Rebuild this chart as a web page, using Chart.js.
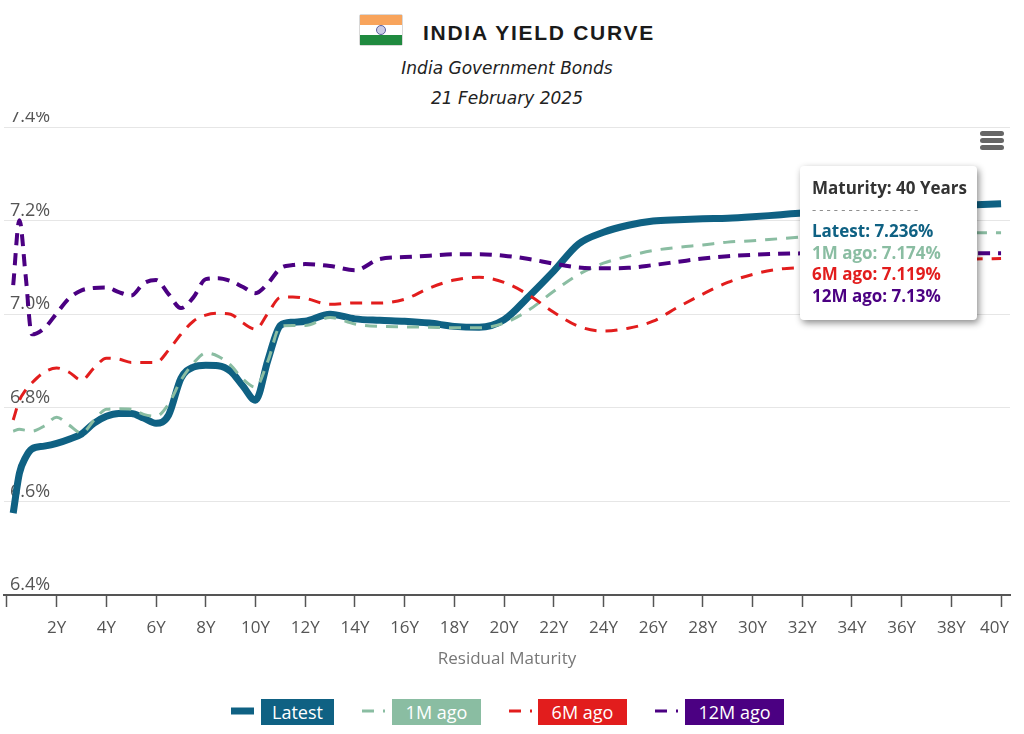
<!DOCTYPE html>
<html>
<head>
<meta charset="utf-8">
<title>India Yield Curve</title>
<script src="https://cdn.jsdelivr.net/npm/chart.js@4"></script>
<style>
  html, body { margin: 0; padding: 0; background: #fff; }
  body { position: relative; width: 1024px; height: 734px; overflow: hidden; font-family: "Open Sans", sans-serif; }
  #flag { position: absolute; left: 359px; top: 14px; }
  #title { position: absolute; left: 423px; top: 21px; font: bold 21px "Liberation Sans", Arial, sans-serif; letter-spacing: 1.72px; color: #1a1a1a; white-space: nowrap; }
  .sub { position: absolute; left: 0; width: 1014px; text-align: center; font: italic 17px "DejaVu Sans", sans-serif; color: #222; }
  #chart { position: absolute; left: 0; top: 112px; }
  #menu { position: absolute; left: 980px; top: 131px; width: 24px; }
  #menu div { height: 5px; margin-bottom: 2px; border-radius: 3px; background: #666; }
  #tip { position: absolute; left: 800px; top: 166px; width: 177px; height: 154px; box-sizing: border-box; padding: 11px 0 0 12px; background: #fff; border-radius: 4px; box-shadow: 2px 3px 7px rgba(0,0,0,.45); font-weight: 700; font-size: 17px; line-height: 21.5px; white-space: nowrap; }
  #legend div.item { position: absolute; top: 699px; height: 26px; line-height: 26px; color: #fff; font-size: 18px; text-align: center; }
  #legend svg { position: absolute; top: 706px; }
</style>
</head>
<body>
<svg id="flag" width="44" height="32" viewBox="0 0 44 32">
  <rect x="0.5" y="0.5" width="43" height="31" rx="1.5" fill="#fff" stroke="#d8d8d8"/>
  <rect x="1" y="1" width="42" height="10" fill="#f8a45c"/>
  <rect x="1" y="21" width="42" height="10" fill="#1f8a3f"/>
  <circle cx="22" cy="16" r="4.5" fill="#c9cbe6" stroke="#5a5f9e"/>
</svg>
<div id="title">INDIA YIELD CURVE</div>
<div class="sub" style="top:58px">India Government Bonds</div>
<div class="sub" style="top:88px">21 February 2025</div>
<canvas id="chart" width="1024" height="557"></canvas>
<div id="menu"><div></div><div></div><div></div></div>
<div id="tip"></div>
<div id="legend"></div>

<script>
// residual maturity in years
var maturities = [0.25, 0.5, 0.75, 1, 1.5, 2, 2.5, 3, 3.5, 4, 4.5, 5, 5.5, 6, 6.5, 7, 7.5, 8, 8.5, 9, 9.5, 10, 10.5, 11, 11.5, 12,
  13, 14, 15, 16, 17, 18, 19, 20, 21, 22, 23, 24, 25, 26, 27, 28, 29, 30, 31, 32, 33, 34, 35, 36, 37, 38, 39, 40];

var latest = [6.575, 6.660, 6.694, 6.712, 6.718, 6.724, 6.733, 6.744, 6.767, 6.782, 6.788, 6.788, 6.778, 6.767, 6.784, 6.863, 6.887, 6.891, 6.890, 6.878, 6.846, 6.816, 6.902, 6.976, 6.983, 6.985,
  7.000, 6.990, 6.987, 6.985, 6.981, 6.974, 6.972, 6.988, 7.038, 7.092, 7.150, 7.175, 7.190, 7.199, 7.202, 7.204, 7.205, 7.208, 7.212, 7.216, 7.218, 7.222, 7.225, 7.228, 7.230, 7.232, 7.234, 7.236];

var oneMonth = [6.750, 6.754, 6.752, 6.750, 6.761, 6.780, 6.763, 6.746, 6.773, 6.797, 6.798, 6.797, 6.786, 6.782, 6.808, 6.859, 6.895, 6.917, 6.910, 6.891, 6.861, 6.844, 6.900, 6.974, 6.976, 6.976,
  6.993, 6.979, 6.974, 6.973, 6.972, 6.971, 6.971, 6.981, 7.009, 7.049, 7.085, 7.109, 7.124, 7.136, 7.143, 7.148, 7.154, 7.157, 7.161, 7.165, 7.167, 7.169, 7.170, 7.171, 7.172, 7.173, 7.174, 7.174];

var sixMonth = [6.774, 6.816, 6.838, 6.853, 6.876, 6.885, 6.876, 6.859, 6.885, 6.906, 6.904, 6.897, 6.897, 6.897, 6.923, 6.957, 6.985, 6.998, 7.002, 7.000, 6.981, 6.968, 7.002, 7.036, 7.037, 7.034,
  7.021, 7.024, 7.024, 7.032, 7.056, 7.073, 7.079, 7.068, 7.041, 7.004, 6.974, 6.964, 6.970, 6.985, 7.015, 7.043, 7.068, 7.085, 7.096, 7.100, 7.104, 7.107, 7.110, 7.112, 7.114, 7.116, 7.118, 7.119];

var twelveMonth = [7.062, 7.201, 7.083, 6.957, 6.970, 7.002, 7.034, 7.051, 7.056, 7.057, 7.047, 7.040, 7.066, 7.073, 7.043, 7.013, 7.036, 7.075, 7.077, 7.071, 7.058, 7.045, 7.066, 7.098, 7.105, 7.107,
  7.103, 7.094, 7.118, 7.122, 7.125, 7.128, 7.128, 7.125, 7.118, 7.108, 7.100, 7.098, 7.099, 7.105, 7.112, 7.119, 7.124, 7.127, 7.129, 7.130, 7.130, 7.131, 7.131, 7.131, 7.131, 7.131, 7.130, 7.130];

var xTickValues = [0, 2, 4, 6, 8, 10, 12, 14, 16, 18, 20, 22, 24, 26, 28, 30, 32, 34, 36, 38, 40];
var seriesNames = ['Latest', '1M ago', '6M ago', '12M ago'];
var seriesColors = ['#0f6183', '#8abda2', '#e21d1d', '#4b0082'];
var seriesValues = [latest, oneMonth, sixMonth, twelveMonth];
var lineWidths = [7, 3, 3, 4];
var dashes = [[], [12, 9], [12, 9], [12, 8]];

function points(values) {
  return values.map(function(v, i) { return { x: maturities[i], y: v }; });
}

var datasets = seriesNames.map(function(name, i) {
  return {
    label: name,
    data: points(seriesValues[i]),
    borderColor: seriesColors[i],
    borderWidth: lineWidths[i],
    borderDash: dashes[i],
    borderCapStyle: 'butt',
    cubicInterpolationMode: 'monotone',
    pointRadius: 0,
    order: 4 - i // later series sit on top
  };
});

new Chart(document.getElementById('chart'), {
  type: 'line',
  data: { datasets: datasets },
  options: {
    responsive: false,
    animation: false,
    events: [],
    layout: { padding: { left: 4, right: 14, top: 15, bottom: 0 } },
    plugins: { legend: { display: false }, tooltip: { enabled: false } },
    scales: {
      x: {
        type: 'linear',
        min: -0.12,
        max: 40.36,
        afterBuildTicks: function(scale) {
          scale.ticks = xTickValues.map(function(v) { return { value: v }; });
        },
        afterFit: function(scale) {
          scale.height = 74;
          scale.paddingLeft = 0;
          scale.paddingRight = 0;
        },
        border: { color: '#555', width: 2 },
        grid: { drawOnChartArea: false, tickLength: 12, tickColor: '#555', tickWidth: 1.5 },
        ticks: {
          autoSkip: false,
          maxRotation: 0,
          padding: 11,
          color: '#555',
          font: { family: '"Open Sans"', size: 17 },
          callback: function(value) {
            if (value === 0) return '';
            // last label is pushed in from the edge
            return value === 40 ? value + 'Y   ' : value + 'Y';
          }
        },
        title: {
          display: true,
          text: 'Residual Maturity',
          color: '#777',
          padding: 0,
          font: { family: '"Open Sans"', size: 17 }
        }
      },
      y: {
        min: 6.4,
        max: 7.4,
        afterFit: function(scale) {
          scale.width = 0;
          scale.paddingTop = 0;
          scale.paddingBottom = 0;
        },
        border: { display: false },
        grid: { color: '#e6e6e6', drawTicks: false },
        ticks: {
          mirror: true,
          stepSize: 0.2,
          padding: 6,
          labelOffset: -10,
          color: '#555',
          font: { family: '"Open Sans"', size: 18 },
          callback: function(value) { return value.toFixed(1) + '%'; }
        }
      }
    }
  }
});

// tooltip box stays open on the last maturity
var tip = document.getElementById('tip');
var last = maturities.length - 1;
var tipHtml = '<div style="color:#333">Maturity: ' + maturities[last] + ' Years</div>' +
  '<div style="color:#888;font-weight:400;font-size:13px;letter-spacing:3.1px">---------------</div>';
seriesNames.forEach(function(name, i) {
  tipHtml += '<div style="color:' + seriesColors[i] + '">' + name + ': ' + seriesValues[i][last] + '%</div>';
});
tip.innerHTML = tipHtml;

// legend
var legendX = [231, 362, 509, 655];
var boxX = [261, 392, 538, 685];
var boxW = [73, 89, 89, 99];
var legend = document.getElementById('legend');
seriesNames.forEach(function(name, i) {
  var dash = dashes[i].length ? ' stroke-dasharray="12 9"' : '';
  var w = dashes[i].length ? 3 : lineWidths[i];
  legend.innerHTML += '<svg style="left:' + legendX[i] + 'px" width="24" height="10"><line x1="0" y1="5" x2="23" y2="5" stroke="' + seriesColors[i] + '" stroke-width="' + w + '"' + dash + '/></svg>' +
    '<div class="item" style="left:' + boxX[i] + 'px;width:' + boxW[i] + 'px;background:' + seriesColors[i] + '">' + name + '</div>';
});
</script>
</body>
</html>
